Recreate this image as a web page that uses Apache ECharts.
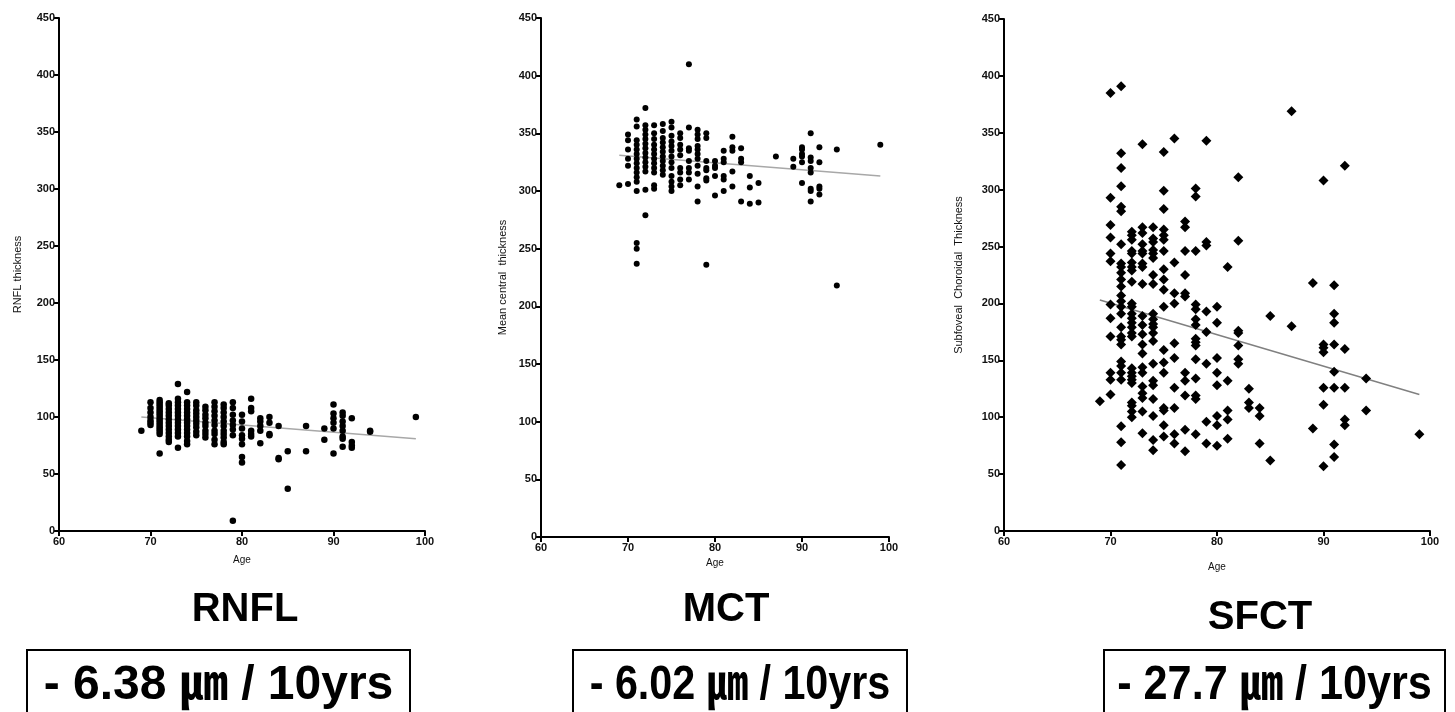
<!DOCTYPE html>
<html>
<head>
<meta charset="utf-8">
<script src="https://cdn.jsdelivr.net/npm/echarts@6/dist/echarts.min.js"></script>
<style>
html,body{margin:0;padding:0;background:#fff;}
#chart{width:1455px;height:712px;}
</style>
</head>
<body>
<div id="chart"></div>
<script>
// ---------- DATA ----------
const xTicks = [60, 70, 80, 90, 100];
const yTicks = [0, 50, 100, 150, 200, 250, 300, 350, 400, 450];

// RNFL thickness by age
const rnflAges = [69, 70, 71, 72, 73, 74, 75, 76, 77, 78, 79, 80, 81, 82, 83, 84, 85, 87, 89, 90, 91, 92, 94, 99];
const rnflValues = [
  [88],
  [113, 108, 104, 100, 97, 95, 93],
  [115, 113, 111, 109, 107, 105, 103, 101, 99, 97, 95, 93, 91, 89, 87, 85, 68],
  [112, 110, 107, 104, 101, 98, 95, 92, 89, 86, 83, 80, 78],
  [129, 116, 113, 110, 107, 104, 101, 98, 95, 92, 89, 86, 83, 73],
  [122, 113, 110, 107, 104, 101, 98, 95, 92, 89, 86, 83, 79, 76],
  [113, 110, 106, 103, 100, 97, 94, 91, 87, 84],
  [109, 106, 102, 99, 95, 92, 88, 85, 82],
  [113, 109, 105, 101, 97, 93, 88, 85, 80, 76],
  [111, 108, 104, 100, 96, 92, 88, 85, 82, 78, 76],
  [113, 108, 102, 97, 93, 89, 84, 9],
  [102, 96, 90, 84, 81, 76, 65, 60],
  [116, 108, 105, 88, 85, 83],
  [99, 96, 92, 88, 77],
  [100, 95, 85, 84],
  [92, 64, 63],
  [70, 37],
  [92, 70],
  [90, 80],
  [111, 103, 99, 95, 90, 68],
  [104, 101, 96, 92, 88, 83, 81, 74],
  [99, 78, 75, 73],
  [88, 87],
  [100]
];
const rnflTrend = [[69, 100], [99, 81]];

// Mean central thickness by age
const mctAges = [69, 70, 71, 72, 73, 74, 75, 76, 77, 78, 79, 80, 81, 82, 83, 84, 85, 87, 89, 90, 91, 92, 94, 99];
const mctValues = [
  [305],
  [349, 344, 336, 328, 322, 306],
  [362, 356, 344, 340, 336, 332, 328, 324, 320, 316, 312, 308, 300, 255, 250, 237],
  [372, 357, 353, 349, 345, 341, 337, 333, 329, 325, 321, 317, 301, 279],
  [357, 350, 345, 340, 336, 332, 328, 324, 320, 316, 305, 302],
  [358, 352, 346, 342, 338, 334, 330, 326, 322, 318, 314],
  [360, 355, 348, 343, 339, 335, 330, 325, 320, 313, 308, 304, 300],
  [350, 346, 340, 336, 331, 320, 316, 310, 305],
  [410, 355, 337, 335, 326, 320, 316, 310],
  [353, 349, 345, 339, 336, 332, 328, 322, 315, 304, 291],
  [350, 346, 326, 320, 318, 311, 309, 236],
  [326, 322, 320, 313, 296],
  [335, 328, 325, 313, 310, 300],
  [347, 338, 335, 317, 304],
  [337, 328, 325, 291],
  [313, 303, 289],
  [307, 290],
  [330],
  [328, 321],
  [338, 336, 332, 330, 325, 307],
  [350, 329, 326, 320, 316, 302, 300, 291],
  [338, 325, 304, 302, 297],
  [336, 218],
  [340]
];
const mctTrend = [[69, 331], [99, 313]];

// Subfoveal choroidal thickness by age
const sfctAges = [69, 70, 71, 72, 73, 74, 75, 76, 77, 78, 79, 80, 81, 82, 83, 84, 85, 87, 89, 90, 91, 92, 94, 99];
const sfctValues = [
  [114],
  [385, 293, 269, 258, 244, 237, 199, 187, 171, 139, 133, 120],
  [391, 332, 319, 303, 285, 281, 252, 235, 232, 227, 221, 215, 207, 202, 197, 191, 179, 171, 168, 164, 149, 145, 139, 133, 92, 78, 58],
  [263, 260, 256, 246, 244, 236, 232, 229, 219, 200, 197, 191, 187, 183, 179, 174, 171, 143, 139, 136, 133, 130, 113, 110, 105, 100],
  [340, 267, 262, 252, 246, 244, 235, 232, 217, 189, 181, 173, 164, 156, 144, 139, 127, 121, 117, 105, 86],
  [267, 257, 254, 247, 244, 240, 225, 217, 191, 186, 182, 179, 174, 167, 147, 132, 128, 116, 101, 80, 71],
  [333, 299, 283, 265, 260, 256, 246, 230, 221, 212, 197, 159, 148, 139, 108, 106, 93, 83],
  [345, 236, 209, 200, 165, 152, 126, 108, 85, 77],
  [272, 267, 246, 225, 209, 206, 139, 132, 119, 89, 70],
  [301, 294, 246, 199, 195, 186, 181, 169, 166, 163, 151, 134, 119, 116, 85],
  [343, 254, 251, 193, 175, 147, 96, 77],
  [197, 183, 152, 139, 128, 101, 93, 75],
  [232, 132, 106, 98, 81],
  [311, 255, 176, 174, 163, 151, 147],
  [125, 113, 108],
  [108, 101, 77],
  [189, 62],
  [369, 180],
  [218, 90],
  [308, 164, 161, 157, 126, 111, 57],
  [216, 191, 183, 164, 140, 126, 76, 65],
  [321, 160, 126, 98, 93],
  [134, 106],
  [85]
];
const sfctTrend = [[69, 203], [99, 120]];

const panelTitles = ['RNFL', 'MCT', 'SFCT'];
const slopeLabels = ['- 6.38 \u339B / 10yrs', '- 6.02 \u339B / 10yrs', '- 27.7 \u339B / 10yrs'];
const yNames = ['RNFL thickness', 'Mean central  thickness', 'Subfoveal  Choroidal  Thickness'];
const xName = 'Age';

// ---------- BUILD ----------
function pairs(ages, values) {
  const out = [];
  ages.forEach((a, i) => values[i].forEach(v => out.push([a, v])));
  return out;
}

const grids = [
  { left: 59, top: 18, width: 366, height: 513 },
  { left: 541, top: 18, width: 348, height: 519 },
  { left: 1004, top: 19, width: 426, height: 512 }
];
const yNameGaps = [36, 33, 40];
const xNameGaps = [24, 17, 31];
const fontFam = '"Liberation Sans", Arial, Helvetica, sans-serif';

const axisCommon = {
  axisLine: { show: true, lineStyle: { color: '#000', width: 2 } },
  axisTick: { show: true, length: 5, inside: false, lineStyle: { color: '#000', width: 2 } },
  axisLabel: { color: '#111', fontWeight: 'bold', fontSize: 11, fontFamily: fontFam, margin: 4 },
  splitLine: { show: false }
};

const xAxes = grids.map((g, i) => Object.assign({}, axisCommon, {
  type: 'value', gridIndex: i, min: xTicks[0], max: xTicks[xTicks.length - 1], interval: 10,
  name: xName, nameLocation: 'middle', nameGap: xNameGaps[i],
  nameTextStyle: { color: '#111', fontSize: 10, fontFamily: fontFam },
  axisLabel: Object.assign({}, axisCommon.axisLabel, { margin: 5 })
}));
const yAxes = grids.map((g, i) => Object.assign({}, axisCommon, {
  type: 'value', gridIndex: i, min: yTicks[0], max: yTicks[yTicks.length - 1], interval: 50,
  name: yNames[i], nameLocation: 'middle', nameGap: yNameGaps[i], nameRotate: 90,
  nameTextStyle: { color: '#111', fontSize: 11, fontFamily: fontFam }
}));

const scatterSets = [pairs(rnflAges, rnflValues), pairs(mctAges, mctValues), pairs(sfctAges, sfctValues)];
const trends = [rnflTrend, mctTrend, sfctTrend];
const symbols = ['circle', 'circle', 'diamond'];
const symbolSizes = [6.5, 6, 10];

const series = [];
scatterSets.forEach((d, i) => {
  series.push({
    type: 'scatter', xAxisIndex: i, yAxisIndex: i, data: d,
    symbol: symbols[i], symbolSize: symbolSizes[i],
    itemStyle: { color: '#000', opacity: 1 }, silent: true, z: 3
  });
  series.push({
    type: 'line', xAxisIndex: i, yAxisIndex: i, data: trends[i],
    symbol: 'none', lineStyle: { color: i === 2 ? '#808080' : '#a8a8a8', width: 1.5 },
    silent: true, z: 2
  });
});

const titleCenters = [[245, 610], [726, 610], [1260, 618]];
const boxes = [[27, 650, 383], [573, 650, 334], [1104, 650, 341]];
const slopeScaleX = [1.0, 0.86, 0.9];
const graphics = [];
panelTitles.forEach((t, i) => {
  graphics.push({
    type: 'text', x: titleCenters[i][0], y: titleCenters[i][1],
    style: { text: t, fill: '#000', font: 'bold 40px ' + fontFam, textAlign: 'center', textVerticalAlign: 'middle' }
  });
  const b = boxes[i];
  graphics.push({
    type: 'rect', shape: { x: b[0], y: b[1], width: b[2], height: 80 },
    style: { fill: '#fff', stroke: '#000', lineWidth: 2 }
  });
  graphics.push({
    type: 'text', x: b[0] + b[2] / 2, y: 686, scaleX: slopeScaleX[i],
    style: { text: slopeLabels[i], fill: '#000', font: 'bold 48px ' + fontFam + ', "Noto Sans CJK KR"', textAlign: 'center', textVerticalAlign: 'middle' }
  });
});

const chart = echarts.init(document.getElementById('chart'), null, { renderer: 'canvas' });
chart.setOption({
  backgroundColor: '#fff',
  animation: false,
  grid: grids,
  xAxis: xAxes,
  yAxis: yAxes,
  series: series,
  graphic: graphics
});
</script>
</body>
</html>
